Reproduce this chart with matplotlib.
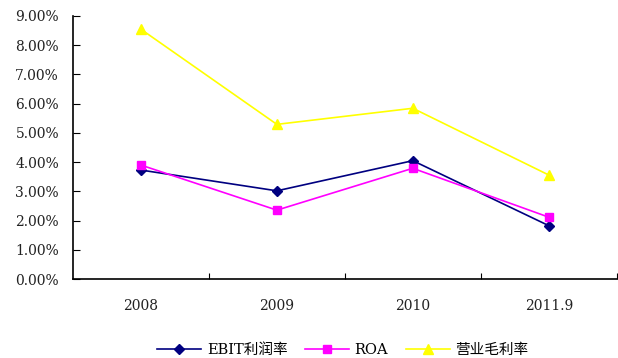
import matplotlib
matplotlib.use('Agg')
import matplotlib.pyplot as plt
from matplotlib.ticker import FuncFormatter

plt.rcParams['font.family'] = ['DejaVu Serif', 'Noto Sans CJK SC']

years = ['2008', '2009', '2010', '2011.9']
ebit = [3.73, 3.02, 4.05, 1.83]
roa = [3.90, 2.36, 3.79, 2.12]
gross = [8.54, 5.29, 5.84, 3.56]

fig = plt.figure(figsize=(6.18, 3.58), dpi=100)
ax = fig.add_axes([0.118, 0.22, 0.88, 0.736])

x = range(len(years))
ax.plot(x, ebit, color='#000080', marker='D', markersize=5, linewidth=1.2, label='EBIT利润率')
ax.plot(x, roa, color='#FF00FF', marker='s', markersize=6, linewidth=1.2, label='ROA')
ax.plot(x, gross, color='#FFFF00', marker='^', markersize=7, linewidth=1.2, label='营业毛利率')

ax.set_xlim(-0.5, len(years) - 0.5)
ax.set_ylim(0, 9)
ax.set_yticks(range(0, 10))
ax.yaxis.set_major_formatter(FuncFormatter(lambda v, p: f'{v:.2f}%'))
ax.set_xticks([i + 0.5 for i in x])
ax.set_xticklabels([])
ax.set_xticks(list(x), minor=True)
ax.set_xticklabels(years, minor=True)
ax.tick_params(axis='x', which='minor', length=0, pad=14, labelsize=10, labelcolor='#222222')
ax.tick_params(axis='x', which='major', direction='in', length=4)
ax.tick_params(axis='y', direction='in', length=5, labelsize=10, pad=10, labelcolor='#222222')

for s in ['top', 'right']:
    ax.spines[s].set_visible(False)
for s in ['left', 'bottom']:
    ax.spines[s].set_linewidth(1.2)

fig.legend(loc='lower center', bbox_to_anchor=(0.555, -0.035), ncol=3, frameon=False,
           fontsize=10.5, handlelength=3.0, columnspacing=1.2, handletextpad=0.4)

fig.savefig('out.png', dpi=100)
